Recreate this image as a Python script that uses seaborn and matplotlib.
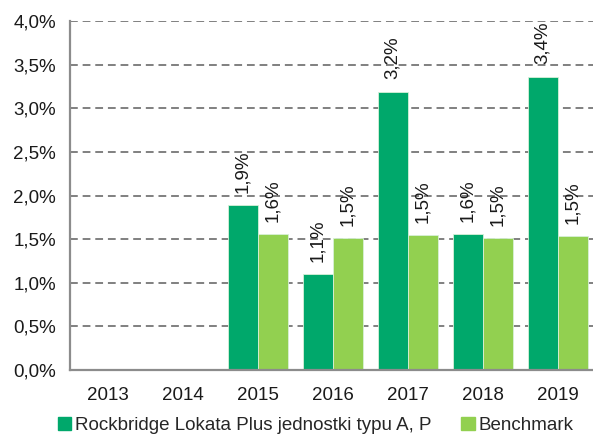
import matplotlib
matplotlib.use("Agg")
import matplotlib.pyplot as plt
import seaborn as sns
import pandas as pd
import numpy as np
from matplotlib.ticker import FixedLocator, FuncFormatter

years = ["2013", "2014", "2015", "2016", "2017", "2018", "2019"]
fund_name = "Rockbridge Lokata Plus jednostki typu A, P"
bench_name = "Benchmark"
fund = [None, None, 1.89, 1.10, 3.19, 1.555, 3.365]
bench = [None, None, 1.56, 1.51, 1.547, 1.51, 1.536]
yticks = [0.0, 0.5, 1.0, 1.5, 2.0, 2.5, 3.0, 3.5, 4.0]

c_fund = "#00A86B"
c_bench = "#92D050"

rows = []
for y, f, b in zip(years, fund, bench):
    if f is not None:
        rows.append((y, fund_name, f))
    if b is not None:
        rows.append((y, bench_name, b))
df = pd.DataFrame(rows, columns=["year", "series", "value"])

sns.set_theme(style="white")
plt.rcParams["font.family"] = ["Liberation Sans", "DejaVu Sans"]

fig = plt.figure(figsize=(5.93, 4.34), dpi=100)
ax = fig.add_axes([70/593, 64/434, 525/593, 348.7/434])

sns.barplot(data=df, x="year", y="value", hue="series", order=years,
            hue_order=[fund_name, bench_name],
            palette=[c_fund, c_bench], saturation=1, width=0.8, ax=ax,
            edgecolor="#d8f0d8", linewidth=0.6, legend=False, errorbar=None)

for cont in ax.containers:
    labels = [f"{b.get_height():.1f}".replace(".", ",") + "%" for b in cont]
    ax.bar_label(cont, labels=labels, rotation=90, padding=9, fontsize=13.5,
                 color="#1a1a1a")

ax.set_ylim(0, 4.0)
ax.set_xlim(-0.5, len(years) - 0.5)
ax.yaxis.set_major_locator(FixedLocator(yticks))
ax.yaxis.set_major_formatter(FuncFormatter(lambda v, p: f"{v:.1f}".replace(".", ",") + "%"))
ax.grid(axis="y", color="#808080", linestyle=(0, (4, 2.5)), linewidth=1.4)
ax.set_axisbelow(True)
ax.set_xlabel("")
ax.set_ylabel("")

for s in ["top", "right"]:
    ax.spines[s].set_visible(False)
for s in ["left", "bottom"]:
    ax.spines[s].set_color("#8c8c8c")
    ax.spines[s].set_linewidth(1.6)

ax.tick_params(axis="y", length=0, labelsize=13.5, colors="#1a1a1a", pad=10)
ax.tick_params(axis="x", which="major", length=0, labelsize=13.5, colors="#1a1a1a", pad=12)
ax.set_xticks(np.arange(-0.5, len(years), 1.0), minor=True)
ax.tick_params(axis="x", which="minor", length=5, width=1.6, color="#8c8c8c", direction="out")

handles = [plt.Rectangle((0, 0), 1, 1, color=c_fund),
           plt.Rectangle((0, 0), 1, 1, color=c_bench)]
fig.legend(handles, [fund_name, bench_name], loc="lower left",
           bbox_to_anchor=(58/593, 0.0), ncol=2, frameon=False,
           fontsize=13.5, handlelength=0.7, handleheight=0.7,
           handletextpad=0.2, columnspacing=1.6, borderpad=0, borderaxespad=0)

fig.savefig("out.png", dpi=100)
